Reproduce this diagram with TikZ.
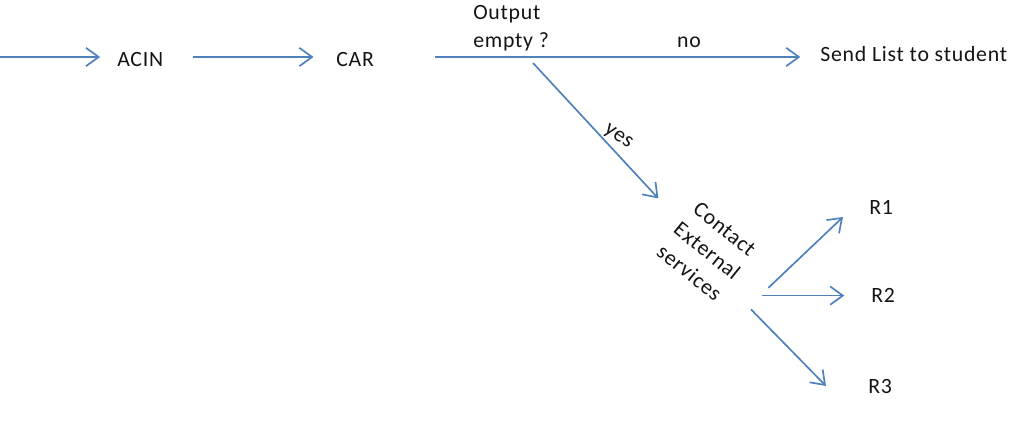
\documentclass[tikz,border=0pt]{standalone}
\usepackage{fontspec}
\setmainfont[LetterSpace=3.5]{Carlito}
\usetikzlibrary{arrows.meta, positioning}
\definecolor{flowblue}{RGB}{79, 129, 189}
\definecolor{textdark}{RGB}{20, 20, 20}

\begin{document}
\begin{tikzpicture}[
    x=0.025cm, y=-0.025cm,
    lbl/.style={inner sep=0pt, text=textdark, font=\fontsize{15.5}{18}\selectfont},
    arrow/.style={-{Straight Barb[length=9pt, width=13pt]}, draw=flowblue, line width=1.2pt}
]
    \useasboundingbox (0,0) rectangle (1028,448);

    % Main row
    \coordinate (start) at (0,57);
    \node[lbl, anchor=base west] (acin) at (117,66) {ACIN};
    \node[lbl, anchor=base west] (car) at (336,66) {CAR};
    \node[lbl, anchor=base west] (send) at (820,61) {Send List to student};

    % Decision labels
    \node[lbl, anchor=north west, align=left, font=\fontsize{15.5}{20}\selectfont] (test) at (473,5) {Output\\empty ?};
    \node[lbl, anchor=base] (no) at (689,47) {no};
    \node[lbl, rotate=-35] (yes) at (618,137) {yes};
    \coordinate (split) at (533,63);

    % External services
    \node[lbl, rotate=-39, align=center, font=\fontsize{15.5}{20}\selectfont,
          inner xsep=22.5pt] (contact) at (707,251) {Contact\\External\\services};
    \node[lbl, anchor=base west] (r1) at (869,214) {R1};
    \node[lbl, anchor=base west] (r2) at (871,302) {R2};
    \node[lbl, anchor=base west] (r3) at (868,393) {R3};

    % Arrows
    \draw[arrow, shorten >=12pt] (start) -- (start -| acin.west);
    \draw[arrow, shorten <=21pt, shorten >=16pt] (acin.east |- start) -- (car.west |- start);
    \draw[arrow, shorten <=43pt, shorten >=14pt] (car.east |- start) -- (send.west |- start);
    \draw[arrow] (split) -- (contact);

    \draw[arrow] (contact.8) -- ([shift={(-26,10)}]r1.west);
    \draw[arrow, shorten >=19pt] (contact.east) -- (contact.east -| r2.west);
    \draw[arrow] (contact.-14) -- ([shift={(-42,0)}]r3.west);
\end{tikzpicture}
\end{document}
